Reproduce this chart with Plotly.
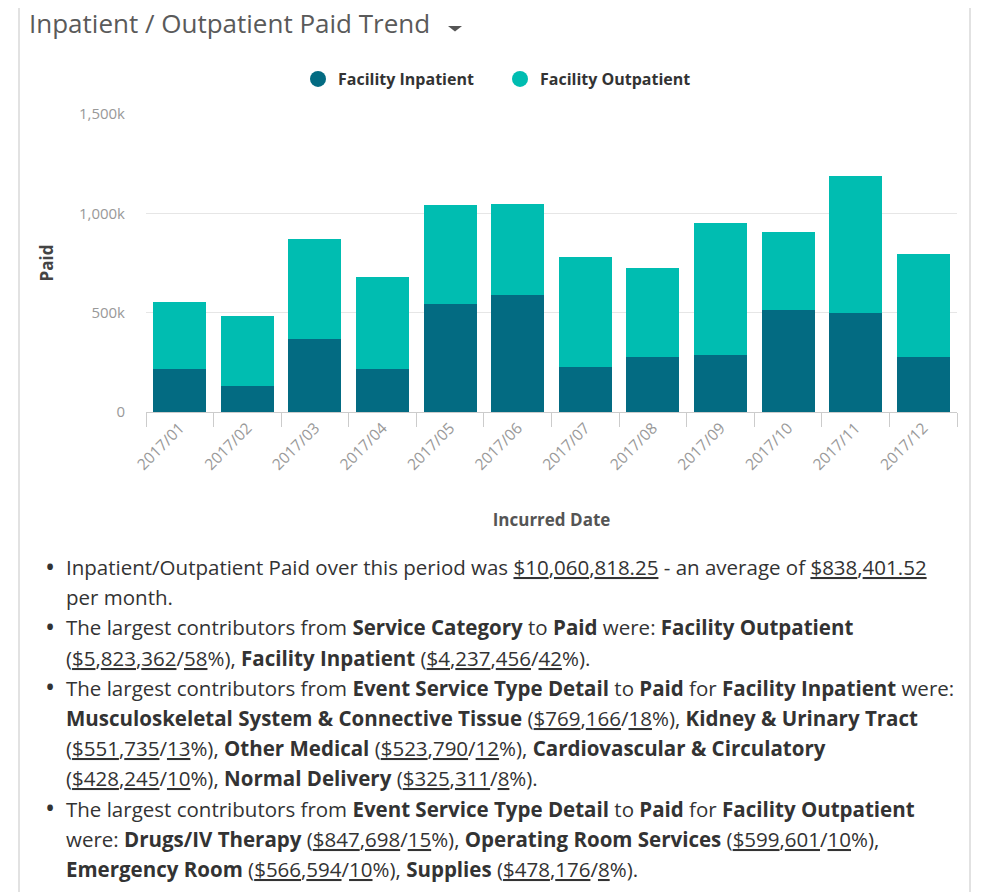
import plotly.graph_objects as go

W, H = 973, 884
OFF = 8  # page body margin of the html page

months = ["2017/01", "2017/02", "2017/03", "2017/04", "2017/05", "2017/06",
          "2017/07", "2017/08", "2017/09", "2017/10", "2017/11", "2017/12"]
inpatient = [214000, 129000, 367000, 214000, 545000, 591000,
             229000, 278000, 288000, 512000, 497000, 278000]
outpatient = [341000, 352000, 502000, 468000, 495000, 456000,
              549000, 449000, 663000, 394000, 691000, 515000]
series_names = ["Facility Inpatient", "Facility Outpatient"]
series_colors = ["#036b82", "#00bdb1"]
y_tickvals = [0, 500000, 1000000, 1500000]
y_ticktext = ["0", "500k", "1,000k", "1,500k"]

title_text = "Inpatient / Outpatient Paid Trend"
summary_lines = [
    (True, "Inpatient/Outpatient Paid over this period was <u>$10</u>,<u>060</u>,<u>818.25</u> - an average of <u>$838</u>,<u>401.52</u>"),
    (False, "per month."),
    (True, "The largest contributors from <b>Service Category</b> to <b>Paid</b> were: <b>Facility Outpatient</b>"),
    (False, "(<u>$5</u>,<u>823</u>,<u>362</u>/<u>58</u>%), <b>Facility Inpatient</b> (<u>$4</u>,<u>237</u>,<u>456</u>/<u>42</u>%)."),
    (True, "The largest contributors from <b>Event Service Type Detail</b> to <b>Paid</b> for <b>Facility Inpatient</b> were:"),
    (False, "<b>Musculoskeletal System &amp; Connective Tissue</b> (<u>$769</u>,<u>166</u>/<u>18</u>%), <b>Kidney &amp; Urinary Tract</b>"),
    (False, "(<u>$551</u>,<u>735</u>/<u>13</u>%), <b>Other Medical</b> (<u>$523</u>,<u>790</u>/<u>12</u>%), <b>Cardiovascular &amp; Circulatory</b>"),
    (False, "(<u>$428</u>,<u>245</u>/<u>10</u>%), <b>Normal Delivery</b> (<u>$325</u>,<u>311</u>/<u>8</u>%)."),
    (True, "The largest contributors from <b>Event Service Type Detail</b> to <b>Paid</b> for <b>Facility Outpatient</b>"),
    (False, "were: <b>Drugs/IV Therapy</b> (<u>$847</u>,<u>698</u>/<u>15</u>%), <b>Operating Room Services</b> (<u>$599</u>,<u>601</u>/<u>10</u>%),"),
    (False, "<b>Emergency Room</b> (<u>$566</u>,<u>594</u>/<u>10</u>%), <b>Supplies</b> (<u>$478</u>,<u>176</u>/<u>8</u>%)."),
]


def px_x(v):
    return (v - OFF) / W


def px_y(v):
    return 1 - (v - OFF) / H


FONT = "Open Sans"

fig = go.Figure()
for name, vals, col in zip(series_names, [inpatient, outpatient], series_colors):
    fig.add_trace(go.Bar(x=months, y=vals, name=name, marker_color=col,
                         marker_line_width=0, showlegend=False))
for name, col in zip(series_names, series_colors):
    fig.add_trace(go.Scatter(x=[None], y=[None], mode="markers", name=name,
                             marker=dict(symbol="circle", size=16, color=col)))

annotations = [
    dict(text=title_text, x=px_x(28), y=px_y(23), xanchor="left", yanchor="middle",
         xref="paper", yref="paper", borderpad=0,
         showarrow=False, font=dict(family=FONT, size=26, color="#5a5a5a")),
]
y0, step = 567, 30.2
for i, (bullet, txt) in enumerate(summary_lines):
    yy = px_y(y0 + i * step)
    if bullet:
        annotations.append(dict(text="•", x=px_x(50), y=px_y(y0 + i * step - 1), xanchor="center",
                                yanchor="middle", xref="paper", yref="paper",
                                showarrow=False, font=dict(family=FONT, size=27, color="#333333")))
    annotations.append(dict(text=txt, x=px_x(64), y=yy, xanchor="left", yanchor="middle",
                            xref="paper", yref="paper",
                            showarrow=False, align="left",
                            font=dict(family=FONT, size=20.5, color="#333333")))

caret = "M {:.5f},{:.5f} L {:.5f},{:.5f} L {:.5f},{:.5f} Z".format(
    px_x(448), px_y(26), px_x(462), px_y(26), px_x(455), px_y(31.5))

fig.update_layout(
    width=W, height=H, autosize=False,
    margin=dict(l=0, r=0, t=0, b=0, autoexpand=False),
    paper_bgcolor="white", plot_bgcolor="white",
    barmode="stack", bargap=0.215,
    template="none",
    font=dict(family=FONT),
    legend=dict(orientation="h", x=px_x(500), y=px_y(79), xanchor="center", yanchor="middle",
                traceorder="normal",
                font=dict(family=FONT, size=16, color="#333333", weight=700),
                entrywidth=157, entrywidthmode="pixels", bgcolor="rgba(0,0,0,0)"),
    xaxis=dict(domain=[px_x(146), px_x(957)], automargin=False, type="category",
               tickangle=-45, tickson="boundaries", ticks="outside", ticklen=14,
               tickcolor="#cccccc", showline=True, linecolor="#cccccc", showgrid=False,
               tickfont=dict(family=FONT, size=15.5, color="#999999"),
               title=dict(text="Incurred Date", standoff=40,
                          font=dict(family=FONT, size=17, color="#555555", weight=700))),
    yaxis=dict(domain=[px_y(412), px_y(114)], automargin=False, range=[0, 1500000],
               tickvals=y_tickvals, ticktext=y_ticktext, showgrid=True, gridcolor="#e6e6e6",
               zeroline=False, ticks="", ticklabelstandoff=20,
               tickfont=dict(family=FONT, size=15, color="#999999"),
               title=dict(text="Paid", standoff=20,
                          font=dict(family=FONT, size=17, color="#444444", weight=700))),
    shapes=[dict(type="rect", xref="paper", yref="paper", x0=px_x(19), x1=px_x(970),
                 y0=-0.02, y1=1.02, line=dict(color="#d9d9d9", width=1.5), layer="below"),
            dict(type="path", xref="paper", yref="paper", path=caret,
                 fillcolor="#555555", line=dict(width=0))],
    annotations=annotations,
)

fig.write_html("out.html")
